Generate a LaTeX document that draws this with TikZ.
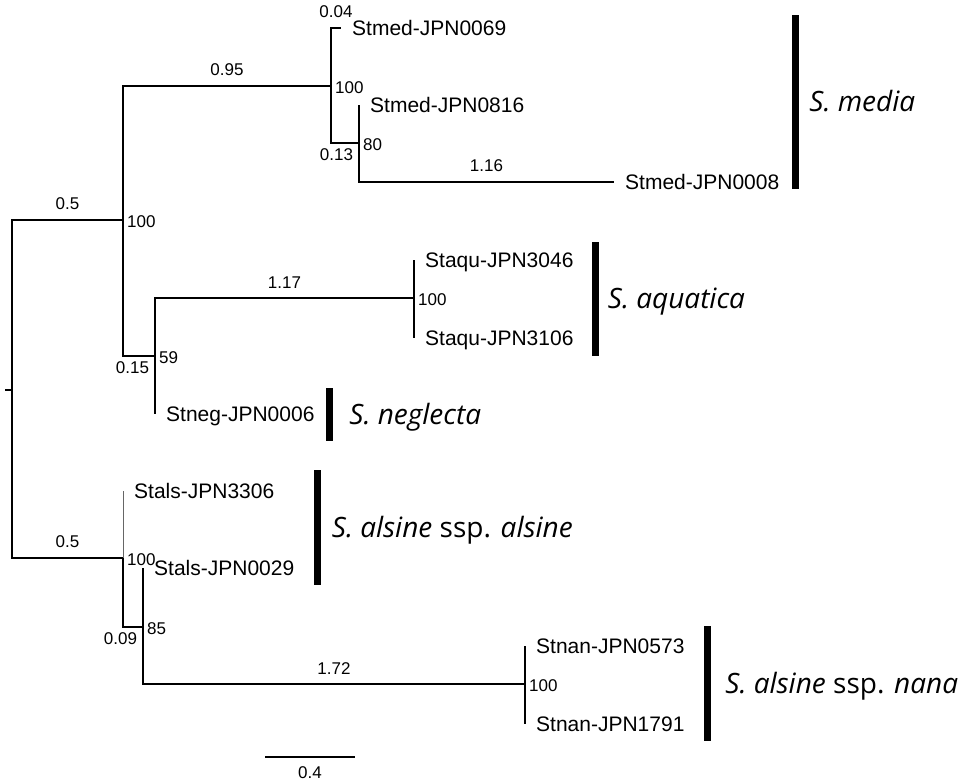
\documentclass[tikz,border=0pt]{standalone}
\usepackage{fontspec}
\setmainfont{Liberation Sans}
\newfontfamily\cladefont{Open Sans}
\usetikzlibrary{positioning}

\tikzset{
  branch/.style={line width=1.9pt},
  thinbranch/.style={line width=1pt, black!60},
  leaf/.style={anchor=west, inner xsep=11pt, inner ysep=0pt,
    font=\fontsize{21}{24}\selectfont, text height=15pt, text depth=0pt},
  blen/.style={font=\fontsize{17}{19}\selectfont, inner sep=9pt},
  blenlow/.style={font=\fontsize{17}{19}\selectfont, inner sep=5pt},
  boot/.style={anchor=west, inner sep=0pt, xshift=4pt, yshift=-2pt,
    font=\fontsize{17}{19}\selectfont},
  cladebar/.style={fill=black, inner sep=0pt, minimum width=7pt},
  clade/.style={anchor=west, inner sep=0pt, font=\cladefont\fontsize{28}{32}\selectfont,
    text height=20pt, text depth=0pt},
}

\begin{document}
\begin{tikzpicture}[x=1pt, y=-1pt]
        \useasboundingbox (0,0) rectangle (972,783);
        % internal nodes
        \coordinate (stub) at (5,390);
        \coordinate (root) at (12,390);
        \coordinate (nA) at (123,220);
        \coordinate (nB) at (331,86);
        \coordinate (nC) at (359,143);
        \coordinate (nD) at (155,356);
        \coordinate (nE) at (414,298);
        \coordinate (nF) at (123,558);
        \coordinate (nG) at (143,627);
        \coordinate (nH) at (525,684);
        % tips
        \node[leaf] (med69) at (341,28) {Stmed-JPN0069};
        \node[leaf] (med816) at (359,105) {Stmed-JPN0816};
        \node[leaf] (med8) at (614,182) {Stmed-JPN0008};
        \node[leaf] (aqu3046) at (414,260) {Staqu-JPN3046};
        \node[leaf] (aqu3106) at (414,338) {Staqu-JPN3106};
        \node[leaf] (neg6) at (155,414) {Stneg-JPN0006};
        \node[leaf] (als3306) at (123,491) {Stals-JPN3306};
        \node[leaf] (als29) at (143,568) {Stals-JPN0029};
        \node[leaf] (nan573) at (525,646) {Stnan-JPN0573};
        \node[leaf] (nan1791) at (525,724) {Stnan-JPN1791};

        % branches
        \draw[branch] (stub) -- (root);
        \draw[branch] (root) |- node[blen, pos=0.75, above] (lA) {0.5} (nA);
        \draw[branch] (root) |- node[blen, pos=0.75, above] (lF) {0.5} (nF);
        \draw[branch] (nA) |- node[blen, pos=0.75, above] (lB) {0.95} (nB);
        \draw[branch] (nA) |- node[blenlow, pos=1, below left] (lD) {0.15} (nD);
        \draw[branch] (nB) |- node[blen, pos=0.75, above] (l69) {0.04} (med69.west);
        \draw[branch] (nB) |- node[blenlow, pos=1, below left] (lC) {0.13} (nC);
        \draw[branch] (nC) |- (med816.west);
        \draw[branch] (nC) |- node[blen, pos=0.75, above] (l8) {1.16} (med8.west);
        \draw[branch] (nD) |- node[blen, pos=0.75, above] (lE) {1.17} (nE);
        \draw[branch] (nD) |- (neg6.west);
        \draw[branch] (nE) |- (aqu3046.west);
        \draw[branch] (nE) |- (aqu3106.west);
        \draw[thinbranch] (nF) |- (als3306.west);
        \draw[branch] (nF) |- node[blenlow, pos=1, below left] (lG) {0.09} (nG);
        \draw[branch] (nG) |- (als29.west);
        \draw[branch] (nG) |- node[blen, pos=0.75, above] (lH) {1.72} (nH);
        \draw[branch] (nH) |- (nan573.west);
        \draw[branch] (nH) |- (nan1791.west);

        % bootstrap values
        \node[boot] (bA) at (nA) {100};
        \node[boot] (bB) at (nB) {100};
        \node[boot] (bC) at (nC) {80};
        \node[boot] (bD) at (nD) {59};
        \node[boot] (bE) at (nE) {100};
        \node[boot] (bF) at (nF) {100};
        \node[boot] (bG) at (nG) {85};
        \node[boot] (bH) at (nH) {100};

        % clades
        \node[cladebar, minimum height=174pt] (barMed) at (795.5,102) {};
        \node[cladebar, minimum height=114pt] (barAqu) at (595,299) {};
        \node[cladebar, minimum height=53pt] (barNeg) at (329.5,414.5) {};
        \node[cladebar, minimum height=115pt] (barAls) at (317,527.5) {};
        \node[cladebar, minimum height=115pt] (barNan) at (707.5,683.5) {};
        \node[clade, right=10pt of barMed] (cMed) {\itshape S. media};
        \node[clade, right=9pt of barAqu] (cAqu) {\itshape S. aquatica};
        \node[clade, right=16pt of barNeg] (cNeg) {\itshape S. neglecta};
        \node[clade, right=11pt of barAls] (cAls) {{\itshape S. alsine} ssp. {\itshape alsine}};
        \node[clade, right=14pt of barNan] (cNan) {{\itshape S. alsine} ssp. {\itshape nana}};

        % scale
        \coordinate (sbL) at (265,757);
        \coordinate (sbR) at (355,757);
        \draw[branch] (sbL) -- node[blen, below] (sbLab) {0.4} (sbR);
    \end{tikzpicture}
\end{document}
